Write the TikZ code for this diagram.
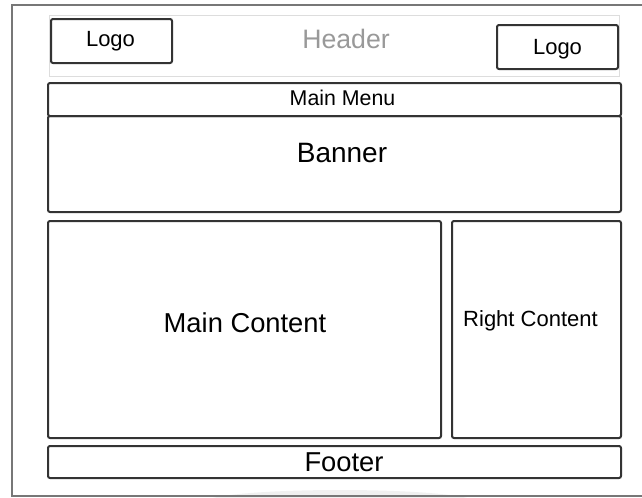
\documentclass[tikz,border=0pt]{standalone}
\usepackage{fontspec}
\setmainfont{Liberation Sans}
\usetikzlibrary{fit}
\definecolor{boxline}{HTML}{333333}
\definecolor{frameline}{HTML}{777777}
\definecolor{headline}{HTML}{DDDDDD}
\definecolor{headtext}{HTML}{999999}
\begin{document}
\begin{tikzpicture}[x=0.75pt,y=-0.75pt,
  box/.style={draw=boxline, line width=1.5pt, rounded corners=1.5pt, inner sep=0pt},
  headbox/.style={draw=headline, line width=0.75pt, inner sep=0pt},
  frame/.style={draw=frameline, line width=1.5pt},
  lbl/.style={anchor=base, inner sep=0pt, text=black},
  fs/.style={font=\fontsize{#1}{#1}\selectfont}]
\useasboundingbox (0,0) rectangle (642,497);
\clip (0,0) rectangle (642,497);
\fill[white] (0,0) rectangle (642,497);

% faint shadow under the page
\fill[black!6] (340,502) ellipse [x radius=135, y radius=12];

% page frame, open to the right
\draw[frame] (660,5) -| (12,496) -- (660,496);

% header strip with the two logos
\node[headbox, fit={(49,15) (619,76)}] (header) {};
\node[box, fit={(51,19) (172,63)}] (logoL) {};
\node[box, fit={(497,25) (618,69)}] (logoR) {};

% menu, banner, content columns and footer
\node[box, fit={(48,83) (621,116)}] (menu) {};
\node[box, fit={(48,116) (621,212)}] (banner) {};
\node[box, fit={(48,221) (441,438)}] (main) {};
\node[box, fit={(452,221) (621,438)}] (right) {};
\node[box, fit={(48,446) (621,478)}] (footer) {};

% labels
\node[lbl, fs=20pt, text=headtext] (headerT) at (346,48) {Header};
\node[lbl, fs=16.5pt] (logoLT) at (110.5,46) {Logo};
\node[lbl, fs=16.5pt] (logoRT) at (557.5,54.5) {Logo};
\node[lbl, fs=16pt] (menuT) at (342.5,105.5) {Main Menu};
\node[lbl, fs=21pt] (bannerT) at (342,162.5) {Banner};
\node[lbl, fs=20.5pt] (mainT) at (245,332) {Main Content};
\node[lbl, fs=16.5pt] (rightT) at (530.5,326) {Right Content};
\node[lbl, fs=20.5pt] (footerT) at (344,471.5) {Footer};
\end{tikzpicture}
\end{document}
